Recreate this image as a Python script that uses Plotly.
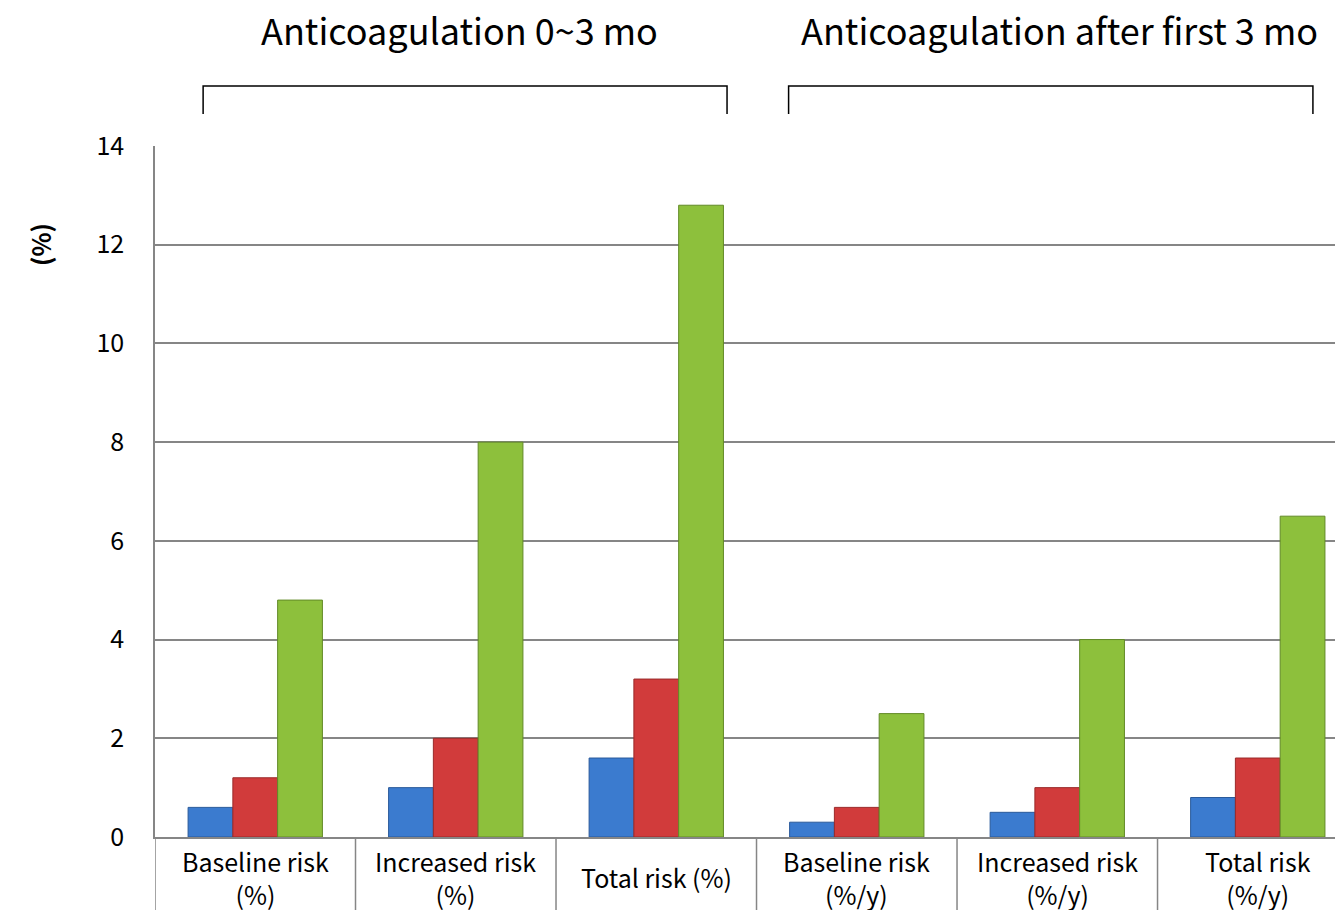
import plotly.graph_objects as go

categories = ["Baseline risk<br>(%)", "Increased risk<br>(%)", "Total risk (%)",
              "Baseline risk<br>(%/y)", "Increased risk<br>(%/y)", "Total risk<br>(%/y)"]
series_names = ["Series 1", "Series 2", "Series 3"]
series_1 = [0.6, 1.0, 1.6, 0.3, 0.5, 0.8]
series_2 = [1.2, 2.0, 3.2, 0.6, 1.0, 1.6]
series_3 = [4.8, 8.0, 12.8, 2.5, 4.0, 6.5]
group_titles = ["Anticoagulation 0~3 mo", "Anticoagulation after first 3 mo"]
y_title = "(%)"

colors = ["#3b7bcf", "#d13b3b", "#8dc03c"]
edge = ["#2a5a9a", "#9a2a2a", "#628a27"]
FONT = "Noto Sans CJK KR"

x_idx = list(range(len(categories)))
fig = go.Figure()
for name, vals, c, e in zip(series_names, [series_1, series_2, series_3], colors, edge):
    fig.add_trace(go.Bar(x=x_idx, y=vals, name=name,
                         marker=dict(color=c, line=dict(color=e, width=1))))

# page body has an 8px margin, so the figure is drawn 8px smaller
OFF = 8
W, H = 1343 - OFF, 910 - OFF
L, R, T, B = 155 - OFF, 0, 146 - OFF, 73
pw = W - L - R
ph = H - T - B

fig.update_layout(
    width=W, height=H,
    margin=dict(l=L, r=R, t=T, b=B),
    paper_bgcolor="white", plot_bgcolor="white",
    barmode="group", bargap=0.33, bargroupgap=0,
    showlegend=False,
    font=dict(family=FONT, size=25, color="black"),
    xaxis=dict(range=[-0.5, 5.425], showticklabels=False, showgrid=False,
               showline=True, linecolor="#868686", linewidth=1.5, zeroline=False,
               fixedrange=True),
    yaxis=dict(range=[0, 14], dtick=2, showgrid=True, gridcolor="#868686", gridwidth=1.5,
               showline=True, linecolor="#868686", linewidth=1.5, zeroline=False,
               ticklabelstandoff=24, tickfont=dict(size=25, family=FONT),
               fixedrange=True),
)

# category labels (vertically centred in the table cells)
for i, cat in enumerate(categories):
    fig.add_annotation(x=i, xref="x", y=-40 / ph, yref="paper", text=cat,
                       showarrow=False, xanchor="center", yanchor="middle",
                       font=dict(size=25, family=FONT, color="black"))

# table cell separators below the axis
for xs in [-0.5, 0.5, 1.5, 2.5, 3.5, 4.5]:
    fig.add_shape(type="line", xref="x", yref="paper", x0=xs, x1=xs,
                  y0=0, y1=-B / ph, line=dict(color="#868686", width=1.5))

# y-axis title
fig.add_annotation(x=-115 / pw, xref="paper", y=(837 - 245) / ph, yref="paper",
                   xanchor="center", yanchor="middle",
                   text="<b>" + y_title + "</b>", textangle=-90, showarrow=False,
                   font=dict(size=25, family=FONT, color="black"))

# group titles and brackets
bracket_spans = [(-0.26, 2.353), (2.66, 5.275)]
title_x = [1.02, 4.01]
ytop = (837 - 86) / ph
ybot = (837 - 114) / ph
for t, (a, b), tx in zip(group_titles, bracket_spans, title_x):
    fig.add_annotation(x=tx, xref="x", y=(837 - 29) / ph, yref="paper", text=t,
                       showarrow=False, xanchor="center", yanchor="middle",
                       borderpad=0,
                       font=dict(size=36, family=FONT, color="black"))
    fig.add_shape(type="path", xref="x", yref="paper",
                  path=f"M {a},{ybot} L {a},{ytop} L {b},{ytop} L {b},{ybot}",
                  line=dict(color="black", width=1.5))

fig.write_html("out.html")
